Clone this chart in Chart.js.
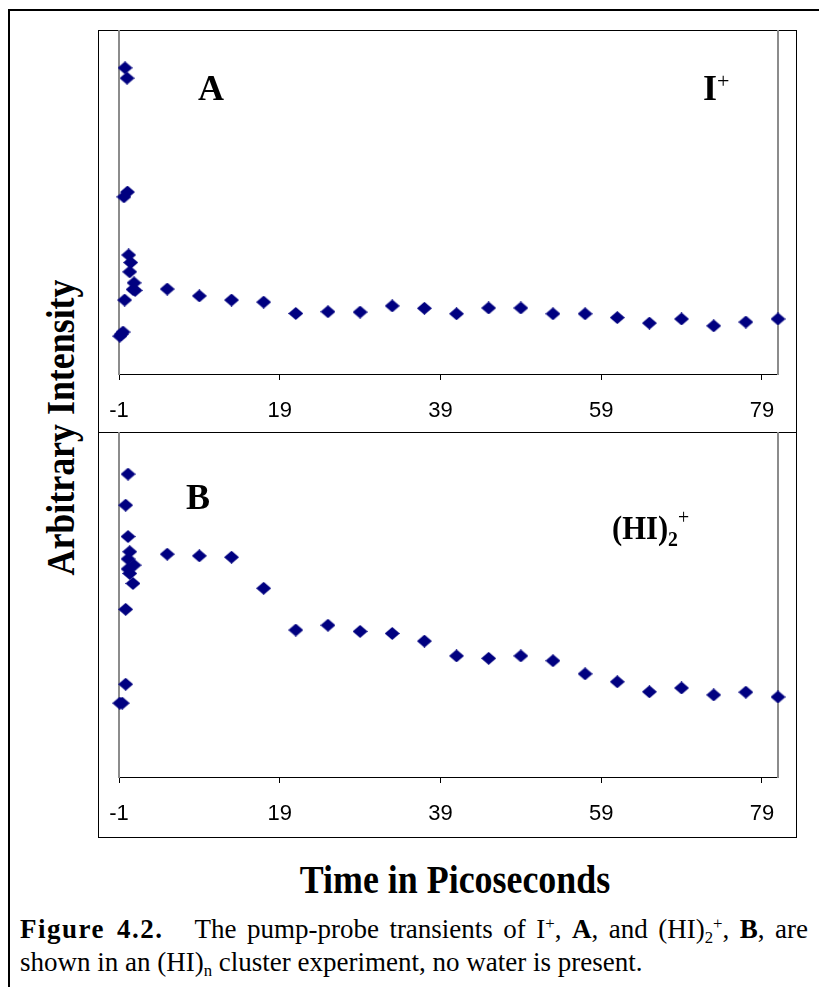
<!DOCTYPE html>
<html>
<head>
<meta charset="utf-8">
<title>Pump-probe transients of I+ and (HI)2+</title>
<script src="https://cdn.jsdelivr.net/npm/chart.js@4.4.1/dist/chart.umd.min.js"></script>
<style>
  html, body { margin: 0; padding: 0; background: #fff; }
  body { width: 819px; height: 987px; position: relative; overflow: hidden;
         font-family: "Times New Roman", "Liberation Serif", serif; color: #000; }
  .rule { position: absolute; background: #000; }
  .box { position: absolute; border: 1px solid #000; box-sizing: border-box; }
  canvas.panel { position: absolute; }
  .txt { position: absolute; white-space: nowrap; line-height: 1; }
  .b { font-weight: bold; }
  sup, sub { font-size: 0.62em; line-height: 0; }
  sup { vertical-align: 0.55em; }
  sub { vertical-align: -0.28em; }
  .cap { position: absolute; font-size: 27px; line-height: 1; white-space: nowrap; }
  .fig { letter-spacing: 1.5px; }
</style>
</head>
<body>
<div class="rule" style="left:8px;top:9px;width:811px;height:2px;"></div>
<div class="rule" style="left:8px;top:9px;width:2px;height:978px;"></div>

<div class="box" style="left:98px;top:30px;width:699px;height:403px;"></div>
<div class="box" style="left:98px;top:432px;width:699px;height:406px;"></div>

<canvas id="panelA" class="panel" width="699" height="403" style="left:98px;top:30px;"></canvas>
<canvas id="panelB" class="panel" width="699" height="406" style="left:98px;top:432px;"></canvas>

<!-- panel labels -->
<div class="txt b" style="left:198px;top:70px;font-size:36px;">A</div>
<div class="txt b" style="left:703px;top:70px;font-size:36px;">I<span style="font-weight:normal;font-size:22px;vertical-align:12px;">+</span></div>
<div class="txt b" style="left:186px;top:479px;font-size:36px;">B</div>
<div class="txt b" style="left:612px;top:506px;font-size:34px;transform-origin:0 0;transform:scaleX(0.9);">(HI)<span style="font-size:22px;vertical-align:-7px;">2</span><span style="font-weight:normal;font-size:22px;vertical-align:15px;">+</span></div>

<!-- axis titles -->
<div class="txt b" style="left:-140px;top:408px;width:400px;text-align:center;font-size:39px;line-height:39px;transform-origin:50% 50%;transform:rotate(-90deg) scaleX(0.92);">Arbitrary Intensity</div>
<div class="txt b" style="left:255px;top:860px;width:400px;text-align:center;font-size:39px;line-height:39px;transform-origin:50% 50%;transform:scaleX(0.92);">Time in Picoseconds</div>

<!-- caption -->
<div class="cap" style="left:20px;top:916px;width:788px;text-align:justify;text-align-last:justify;"><b class="fig">Figure 4.2.</b>&nbsp;&nbsp; The pump-probe transients of I<sup>+</sup>, <b>A</b>, and (HI)<sub>2</sub><sup>+</sup>, <b>B</b>, are</div>
<div class="cap" style="left:20px;top:949px;">shown in an (HI)<sub>n</sub> cluster experiment, no water is present.</div>

<script>
// Time axis (picoseconds) tick labels
const xTicks = [-1, 19, 39, 59, 79];

// Panel A: I+ transient
const timeA = [-0.9, -0.7, -0.5, -0.38, -0.3, -0.25, 0.0, 0.05, 0.2, 0.33, 0.45, 0.75, 0.87, 1.0,
               5, 9, 13, 17, 21, 25, 29, 33, 37, 41, 45, 49, 53, 57, 61, 65, 69, 73, 77, 81];
const iPlus = [11.0, 11.6, 12.2, 51.5, 21.5, 89.0, 86.0, 52.9, 34.6, 29.7, 32.4, 24.6, 26.5, 24.3,
               24.7, 22.7, 21.5, 20.9, 17.6, 18.1, 18.0, 19.8, 19.1, 17.5, 19.2, 19.2, 17.5, 17.5,
               16.4, 14.8, 16.0, 14.0, 15.1, 16.0];

// Panel B: (HI)2+ transient
const timeB = [-0.9, -0.6, -0.17, -0.17, -0.17, 0.12, 0.12, 0.12, 0.12, 0.33, 0.33, 0.74, 0.87,
               5, 9, 13, 17, 21, 25, 29, 33, 37, 41, 45, 49, 53, 57, 61, 65, 69, 73, 77, 81];
const hi2Plus = [21.4, 21.4, 26.9, 48.6, 78.8, 87.8, 69.7, 63.2, 60.3, 65.3, 59.0, 56.1, 61.4,
                 64.6, 64.1, 63.7, 54.7, 42.6, 44.0, 42.2, 41.6, 39.4, 35.1, 34.4, 35.1, 33.7,
                 29.9, 27.6, 24.7, 25.8, 23.8, 24.6, 23.2];

const MARKER_COLOR = '#000080';
const TICK_FONT = { family: 'Arial, "Liberation Sans", sans-serif', size: 22 };

// Diamond marker sprite, slightly wider than tall
function diamond(w, h, color) {
  const c = document.createElement('canvas');
  c.width = w; c.height = h;
  const g = c.getContext('2d');
  g.fillStyle = color;
  g.beginPath();
  g.moveTo(w / 2, 0);
  g.lineTo(w, h / 2);
  g.lineTo(w / 2, h);
  g.lineTo(0, h / 2);
  g.closePath();
  g.fill();
  return c;
}
const marker = diamond(15, 13, MARKER_COLOR);

function pairs(xs, ys) {
  return xs.map((x, i) => ({ x: x, y: ys[i] }));
}

function makePanel(id, xs, ys, axisHeight) {
  const edge = { color: '#8c8c8c', width: 2 };
  return new Chart(document.getElementById(id), {
    type: 'scatter',
    data: {
      datasets: [{
        data: pairs(xs, ys),
        pointStyle: marker,
        pointRadius: 7,
        pointHoverRadius: 7,
        backgroundColor: MARKER_COLOR,
        borderColor: MARKER_COLOR,
        showLine: false,
        clip: false
      }]
    },
    options: {
      responsive: false,
      animation: false,
      devicePixelRatio: 1,
      events: [],
      layout: { padding: 0, autoPadding: false },
      plugins: { legend: { display: false }, tooltip: { enabled: false } },
      scales: {
        x: {
          type: 'linear',
          min: -1,
          max: 81,
          afterBuildTicks: s => { s.ticks = xTicks.map(v => ({ value: v })); },
          afterFit: s => { s.height = axisHeight; s.paddingLeft = 0; s.paddingRight = 0; },
          border: { display: true, color: '#000', width: 1 },
          grid: { display: true, drawOnChartArea: false, drawTicks: true,
                  tickLength: 6, tickColor: '#000', tickWidth: 1 },
          ticks: { color: '#000', font: TICK_FONT, padding: 18, maxRotation: 0,
                   autoSkip: false, callback: v => String(v) }
        },
        y: {
          type: 'linear', position: 'left', min: 0, max: 100,
          afterFit: s => { s.width = 21; },
          border: edge,
          grid: { display: false },
          ticks: { display: false }
        },
        yEdge: {
          type: 'linear', position: 'right', min: 0, max: 100,
          afterFit: s => { s.width = 19; },
          border: edge,
          grid: { display: false },
          ticks: { display: false }
        }
      }
    }
  });
}

makePanel('panelA', timeA, iPlus, 59);
makePanel('panelB', timeB, hi2Plus, 61);
</script>
</body>
</html>
